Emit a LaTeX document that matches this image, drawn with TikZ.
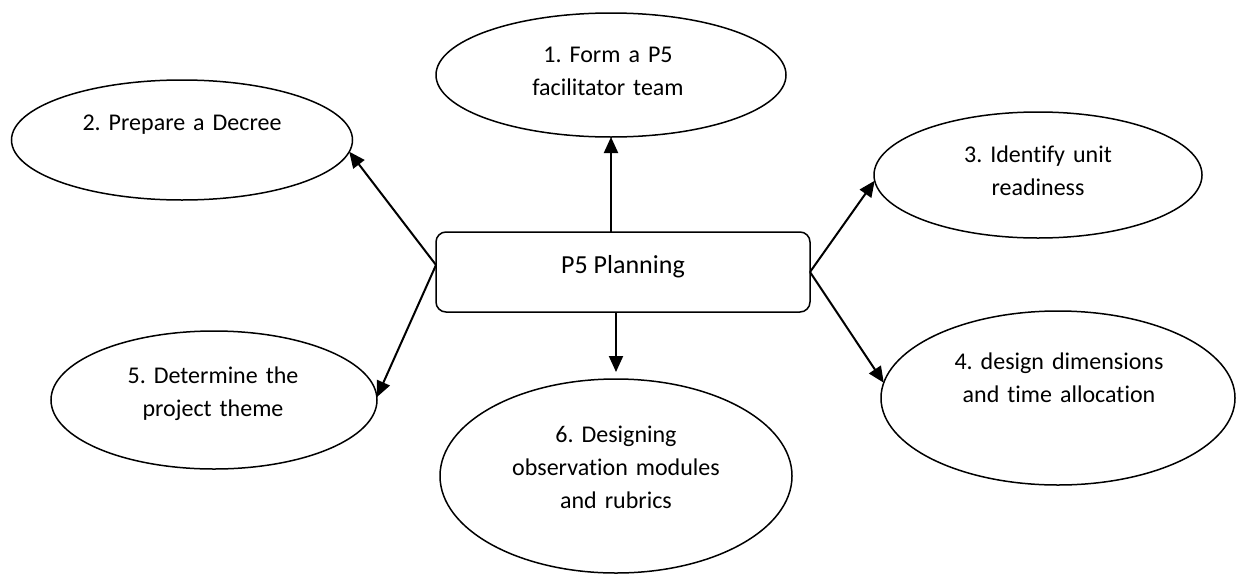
\documentclass[tikz,border=0pt]{standalone}
\usepackage{fontspec}
\setmainfont[Ligatures={NoCommon,NoContextual}]{Carlito}
\usetikzlibrary{arrows.meta,calc,shapes.geometric}
\begin{document}
\frenchspacing
\begin{tikzpicture}[x=1pt,y=-1pt,
  oval/.style={draw, ellipse, line width=1.5pt, inner sep=0pt, outer sep=0pt},
  lbl/.style={align=center, text width=360pt, anchor=base, inner sep=0pt, font=\fontsize{24}{33}\selectfont},
  boxlbl/.style={anchor=base, inner sep=0pt, font=\fontsize{26}{33}\selectfont},
  hub/.style={draw, rounded corners=10pt, line width=1.5pt, minimum width=374pt, minimum height=80pt, inner sep=0pt, outer sep=0pt},
  arr/.style={line width=2pt, -{Triangle[length=16pt,width=14pt]}}]
\useasboundingbox[fill=white] (0,0) rectangle (1238,573);
% ellipses
\node[oval, minimum width=350pt, minimum height=124pt] (e1) at (611,75) {};
\node[oval, minimum width=341pt, minimum height=120pt] (e2) at (182,140) {};
\node[oval, minimum width=328pt, minimum height=126pt] (e3) at (1038,175) {};
\node[oval, minimum width=354pt, minimum height=174pt] (e4) at (1058,398) {};
\node[oval, minimum width=326pt, minimum height=138pt] (e5) at (214,400) {};
\node[oval, minimum width=352pt, minimum height=194pt] (e6) at (616,476) {};
% hub
\node[hub] (box) at (623,272) {};
% labels
\node[boxlbl] (tbox) at (623,273) {P5 Planning};
\node[lbl] (t1) at (608,62) {1. Form a P5\\facilitator team};
\node[lbl] (t2) at (182,130) {2. Prepare a Decree};
\node[lbl] (t3) at (1038,162) {3. Identify unit\\readiness};
\node[lbl] (t4) at (1059,369) {4. design dimensions\\and time allocation};
\node[lbl] (t5) at (213,383) {5. Determine the\\project theme};
\node[lbl] (t6) at (616,442) {6. Designing\\observation modules\\and rubrics};
% arrows
\draw[arr] (box.north -| e1.south) -- (e1.south);
\draw[arr] ($(box.west)+(0,-7)$) -- (e2.-4.5);
\draw[arr] ($(box.west)+(0,-7)$) -- (e5.1);
\draw[arr] (box.south -| e6.north) -- ([yshift=7pt]e6.north);
\draw[arr] (box.east) -- (e3.182);
\draw[arr] (box.east) -- (e4.175);
\end{tikzpicture}
\end{document}
